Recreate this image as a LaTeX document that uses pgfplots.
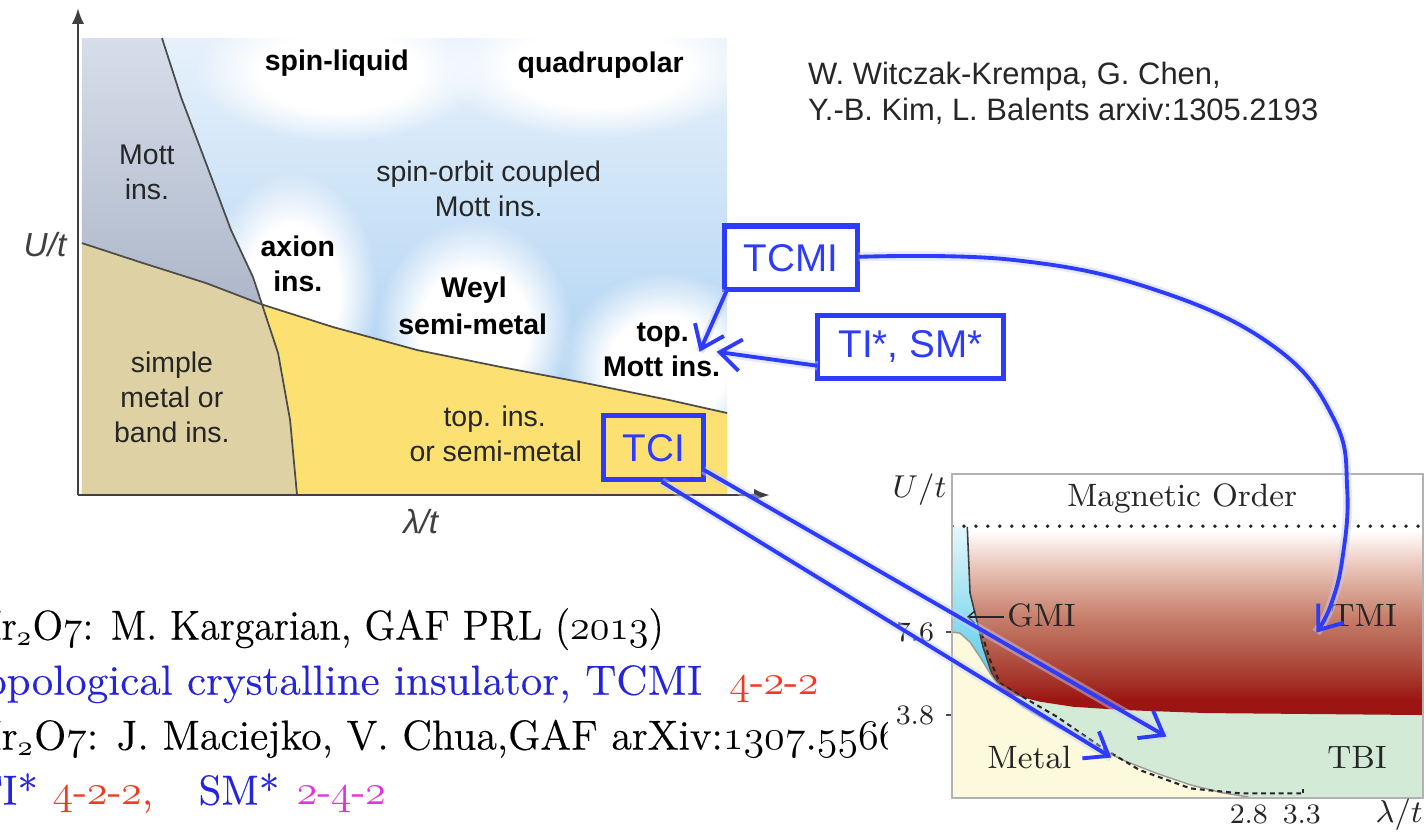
\documentclass[border=0pt]{standalone}
\usepackage{pgfplots}
\pgfplotsset{compat=1.18}
\usepackage{fontspec}
\usetikzlibrary{arrows.meta,fadings}
\newfontfamily\hv{Liberation Sans}
\newfontfamily\slideserif{Latin Modern Roman}[FakeBold=0.35]

\definecolor{mottA}{HTML}{D7DEEA}
\definecolor{mottB}{HTML}{ADB7C9}
\definecolor{tanc}{HTML}{DED2A4}
\definecolor{yel}{HTML}{FCE071}
\definecolor{skyA}{HTML}{E6F1FB}
\definecolor{skyM}{HTML}{ABD0F2}
\definecolor{skyB}{HTML}{A0CAF0}
\definecolor{slide}{HTML}{2D3CFA}
\definecolor{rA}{HTML}{9C1513}
\definecolor{rB}{HTML}{A53429}
\definecolor{rC}{HTML}{B45A4A}
\definecolor{rD}{HTML}{C57B68}
\definecolor{rE}{HTML}{D9A493}
\definecolor{rF}{HTML}{EECFC5}
\definecolor{rG}{HTML}{FBF0EC}
\definecolor{tbi}{HTML}{D3EBD6}
\definecolor{metalc}{HTML}{FCF9DD}
\definecolor{cyanA}{HTML}{E4F7FB}
\definecolor{cyanB}{HTML}{4FC8E8}
\definecolor{txtblue}{HTML}{2424DA}
\definecolor{txtred}{HTML}{F23A22}
\definecolor{txtmag}{HTML}{E032E0}

% magnetic-order colour ramp (bottom to top)
\pgfdeclareverticalshading{redfade}{100bp}{color(0bp)=(rA); color(29bp)=(rA); color(34.3bp)=(rB); color(42.3bp)=(rC); color(50.3bp)=(rD); color(58.2bp)=(rE); color(66.2bp)=(rF); color(71.5bp)=(rG); color(74bp)=(white); color(100bp)=(white)}
% soft white haze around the phase names
\pgfdeclareradialshading{softblobshade}{\pgfpointorigin}{color(0bp)=(pgftransparent!0); color(14bp)=(pgftransparent!0); color(25bp)=(pgftransparent!100); color(50bp)=(pgftransparent!100)}
\pgfdeclarefading{softblob}{\pgfuseshading{softblobshade}}

\newcommand\os[1]{\ensuremath{\mathnormal{#1}}}

\tikzset{
  lab/.style={font=\hv\fontsize{8.1}{9}\selectfont, text=black!85, anchor=base, inner sep=0pt},
  blab/.style={lab, font=\hv\bfseries\fontsize{8.1}{9}\selectfont, text=black},
  blu/.style={slide, line width=1.1pt, -{Straight Barb[length=6pt,width=9pt,line width=1.1pt]},
              preaction={draw=slide!25, line width=2.6pt, opacity=0.45, -}},
}

\begin{document}
\begin{tikzpicture}
\useasboundingbox (0,0) rectangle (14.26,8.31);
\clip (0,0) rectangle (14.26,8.31);

% ---------------- generic phase diagram (U/t vs lambda/t) ----------------
\begin{axis}[at={(0.78cm,3.36cm)}, anchor=south west, scale only axis,
  width=6.92cm, height=4.87cm, xmin=0, xmax=10.66, ymin=0, ymax=10.66,
  axis lines=left, axis on top, xtick=\empty, ytick=\empty,
  axis line style={draw=black!75, line width=0.8pt},
  x axis line style={-{Latex[length=4.5pt,width=3.5pt]}},
  y axis line style={-{Latex[length=4.5pt,width=3.5pt]}}]
% spin-orbit coupled Mott background
\addplot[draw=none, top color=skyA, middle color=skyM, bottom color=skyB]
  coordinates {(0.06,0) (10,0) (10,10) (0.06,10)} -- cycle;
\fill[white, path fading=softblob] (axis cs:4.02,9.26) ellipse [x radius=1.45cm, y radius=0.70cm];
\fill[white, path fading=softblob] (axis cs:8.01,9.34) ellipse [x radius=1.60cm, y radius=0.70cm];
\fill[white, path fading=softblob] (axis cs:3.30,4.44) ellipse [x radius=0.85cm, y radius=1.20cm];
\fill[white, path fading=softblob] (axis cs:6.10,3.61) ellipse [x radius=0.98cm, y radius=1.10cm];
\fill[white, path fading=softblob] (axis cs:9.05,2.74) ellipse [x radius=1.05cm, y radius=0.98cm];
% Mott insulator
\addplot[draw=none, top color=mottA, bottom color=mottB] coordinates {
  (0.06,10) (1.294,10) (1.587,8.709) (1.972,7.265) (2.357,5.799) (2.696,4.770)
  (2.835,4.17) (1.972,4.639) (1.0,5.077) (0.06,5.514)} -- cycle;
% simple metal or band insulator
\addplot[draw=none, fill=tanc] coordinates {
  (0.06,0) (0.06,5.514) (1.0,5.077) (1.972,4.639) (2.835,4.17) (3.082,3.107)
  (3.267,1.641) (3.374,0)} -- cycle;
% topological insulator or semimetal
\addplot[draw=none, fill=yel] coordinates {
  (3.374,0) (3.267,1.641) (3.082,3.107) (2.835,4.17) (3.929,3.676) (5.223,3.173)
  (6.518,2.801) (7.812,2.451) (9.106,2.079) (10,1.794) (10,0)} -- cycle;
% phase boundaries
\addplot[black!70, line width=0.5pt] coordinates {
  (1.294,10) (1.587,8.709) (1.972,7.265) (2.357,5.799) (2.696,4.770) (2.835,4.17)
  (3.082,3.107) (3.267,1.641) (3.374,0)};
\addplot[black!70, line width=0.5pt] coordinates {
  (0.06,5.514) (1.0,5.077) (1.972,4.639) (2.835,4.17) (3.929,3.676) (5.223,3.173)
  (6.518,2.801) (7.812,2.451) (9.106,2.079) (10,1.794)};
\end{axis}

% ---------------- pyrochlore phase diagram ----------------
\begin{axis}[at={(9.52cm,0.33cm)}, anchor=south west, scale only axis,
  width=4.71cm, height=3.24cm, xmin=0, xmax=4.443, ymin=0, ymax=14.84,
  axis on top, axis line style={draw=black!30, line width=0.5pt},
  xtick={2.8,3.3}, ytick={3.8,7.6}, tick pos=left, tick align=outside,
  major tick length=1.6pt, xtick style={draw=none},
  ytick style={draw=black!70, line width=0.4pt},
  ticklabel style={font=\fontsize{7.6}{8}\selectfont, text=black!85},
  xticklabel style={yshift=3pt}]
% TBI
\addplot[draw=none, fill=tbi] coordinates {(0,0) (4.443,0) (4.443,5.3) (0,5.3)} -- cycle;
% TMI
\addplot[draw=none, shade, shading=redfade] coordinates {
  (0.144,12.42) (4.443,12.42) (4.443,3.8) (2.40,3.89) (1.61,4.03) (1.14,4.18)
  (0.83,4.41) (0.516,4.79) (0.453,5.04) (0.374,5.72) (0.293,6.91) (0.233,8.15)
  (0.17,9.39)} -- cycle;
% GMI
\addplot[draw=none, top color=cyanA, bottom color=cyanB] coordinates {
  (0,12.42) (0.144,12.42) (0.17,9.39) (0.233,8.15) (0.293,6.91) (0.374,5.72)
  (0.453,5.04) (0.358,5.72) (0.264,6.46) (0.17,7.14) (0.075,7.55) (0,7.6)} -- cycle;
% Metal
\addplot[draw=none, fill=metalc] coordinates {
  (0,0) (0,7.6) (0.075,7.55) (0.17,7.14) (0.264,6.46) (0.358,5.72) (0.453,5.04)
  (0.67,4.18) (0.99,3.27) (1.30,2.50) (1.61,1.74) (1.93,1.13) (2.25,0.60)
  (2.56,0.23) (2.79,0.05) (2.8,0)} -- cycle;
% boundaries
\addplot[black!75, line width=0.45pt] coordinates {
  (0.144,12.42) (0.17,9.39) (0.233,8.15) (0.293,6.91) (0.374,5.72) (0.453,5.04)};
\addplot[black!40, line width=0.4pt] coordinates {
  (0,7.6) (0.075,7.55) (0.17,7.14) (0.264,6.46) (0.358,5.72) (0.453,5.04)
  (0.67,4.18) (0.99,3.27) (1.30,2.50) (1.61,1.74) (1.93,1.13) (2.25,0.60)
  (2.56,0.23) (2.79,0.05) (2.8,0)};
\addplot[black!85, line width=0.6pt, dash pattern=on 1.4pt off 1.1pt] coordinates {
  (0.28,7.54) (0.358,6.32) (0.453,5.25) (0.61,4.79) (0.99,3.72) (1.40,2.35)
  (1.77,1.28) (2.25,0.44) (2.72,0.21) (3.31,0.21)};
\addplot[black!85, line width=0.45pt] coordinates {(3.31,0.21) (3.31,0.42)};
\addplot[black!85, line width=1.1pt, line cap=round, dash pattern=on 0pt off 3.4pt]
  coordinates {(0,12.45) (4.443,12.45)};
\draw[black!85, line width=0.4pt, -{Straight Barb[length=2pt,width=3.5pt]}]
  (axis cs:0.49,8.29) -- (axis cs:0.14,8.29);
\node[anchor=base, font=\fontsize{9.2}{10}\selectfont, text=black!85] at (axis cs:2.17,13.34) {Magnetic Order};
\node[anchor=base west, inner sep=0pt, font=\fontsize{9.2}{10}\selectfont, text=black!85] at (axis cs:0.516,7.84) {GMI};
\node[anchor=base west, inner sep=0pt, font=\fontsize{9.2}{10}\selectfont, text=black!85] at (axis cs:3.566,7.84) {TMI};
\node[anchor=base west, inner sep=0pt, font=\fontsize{9.2}{10}\selectfont, text=black!85] at (axis cs:0.327,1.35) {Metal};
\node[anchor=base west, inner sep=0pt, font=\fontsize{9.2}{10}\selectfont, text=black!85] at (axis cs:3.535,1.35) {TBI};
\end{axis}

% ---------------- labels, references and pointers ----------------
\begin{scope}[x=0.01cm, y=-0.01cm, shift={(0cm,8.31cm)}]
% phase names
\node[blab] at (337,71) {spin-liquid};
\node[blab] at (601,73) {quadrupolar};
\node[lab] at (147,165) {Mott};
\node[lab] at (147,200) {ins.};
\node[lab] at (489,182) {spin-orbit coupled};
\node[lab] at (489,217) {Mott ins.};
\node[blab] at (298,257) {axion};
\node[blab] at (298,292) {ins.};
\node[blab] at (474,298) {Weyl};
\node[blab] at (473,335) {semi-metal};
\node[blab] at (663,342) {top.};
\node[blab] at (662,377) {Mott ins.};
\node[lab] at (172,373) {simple};
\node[lab] at (172,408) {metal or};
\node[lab] at (172,443) {band ins.};
\node[lab] at (495,427) {top. ins.};
\node[lab] at (496,462) {or semi-metal};
% axis names
\node[font=\hv\itshape\fontsize{9.5}{10}\selectfont, text=black!75] at (45,245) {U/t};
\node[font=\hv\itshape\fontsize{9.5}{10}\selectfont, text=black!75] at (421,522) {λ/t};
\node[font=\fontsize{9.5}{10}\selectfont, text=black!85] at (920,490) {$U/t$};
\node[font=\fontsize{9.5}{10}\selectfont, text=black!85] at (1400,815) {$\lambda/t$};
% reference
\node[anchor=base west, inner sep=0pt, font=\hv\fontsize{8.8}{10}\selectfont, text=black!85] at (808,85) {W. Witczak-Krempa, G. Chen,};
\node[anchor=base west, inner sep=0pt, font=\hv\fontsize{8.8}{10}\selectfont, text=black!85] at (808,121) {Y.-B. Kim, L. Balents arxiv:1305.2193};
% boxed phases
\draw[slide, line width=1.5pt] (725,226) rectangle (858,290);
\draw[slide, line width=1.5pt] (818,316) rectangle (1004,379);
\draw[slide, line width=1.5pt] (604,416) rectangle (704,480);
\node[font=\hv\fontsize{11}{12}\selectfont, text=slide] at (791.5,258) {TCMI};
\node[font=\hv\fontsize{11}{12}\selectfont, text=slide] at (911,347) {TI*, SM*};
\node[font=\hv\fontsize{11}{12}\selectfont, text=slide] at (654,448) {TCI};
% pointers
\draw[blu] (727,291) -- (700,352);
\draw[blu] (818,366) -- (717,352);
\draw[blu] plot[smooth, tension=0.7] coordinates {(859,257) (1013,260) (1156,290) (1275,347) (1335,420) (1348,490) (1343,560) (1331,607) (1317,633)};
\draw[blu] (704,470) -- (1167,737);
\draw[blu] (662,482) -- (1112,758);
% slide text
\begin{scope}[font=\slideserif\fontsize{11.9}{13}\selectfont]
\node[anchor=base west, inner sep=0pt, text=black] at (1,640) {\scalebox{0.95}[1]{\llap{I}r$_{\mathnormal{2}}$O\os{7}: M. Kargarian, GAF PRL (\os{2013})}};
\node[anchor=base west, inner sep=0pt, text=txtblue] at (6,695) {\scalebox{1.05}[1]{\llap{To}pological crystalline insulator, TCMI}};
\node[anchor=base west, inner sep=0pt, text=txtred] at (729,695) {\os{4}-\os{2}-\os{2}};
\begin{scope}
\clip (0,700) rectangle (888,831);
\node[anchor=base west, inner sep=0pt, text=black] at (1,750) {\llap{I}r$_{\mathnormal{2}}$O\os{7}: J. Maciejko, V. Chua,GAF arXiv:\os{1307}.\os{5566}};
\end{scope}
\node[anchor=base west, inner sep=0pt, text=txtblue] at (2,805) {\llap{T}I*};
\node[anchor=base west, inner sep=0pt, text=txtred] at (52,805) {\os{4}-\os{2}-\os{2},};
\node[anchor=base west, inner sep=0pt, text=txtblue] at (198,805) {SM*};
\node[anchor=base west, inner sep=0pt, text=txtmag] at (296,805) {\os{2}-\os{4}-\os{2}};
\end{scope}
\end{scope}
\end{tikzpicture}
\end{document}
